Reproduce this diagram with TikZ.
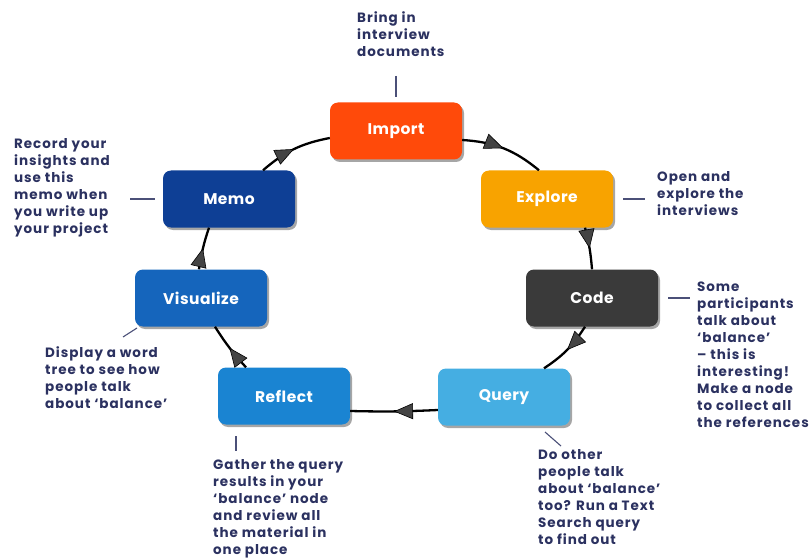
\documentclass[tikz,border=0pt]{standalone}
\usepackage{fontspec}
\setmainfont{Poppins}
\newfontfamily\notefont{Poppins}[LetterSpace=7]
\newfontfamily\boxfont{Poppins}[LetterSpace=3]
\usetikzlibrary{arrows.meta,decorations.markings,shadows}
\definecolor{cimp}{HTML}{FF4A0A}
\definecolor{cexp}{HTML}{F8A300}
\definecolor{ccode}{HTML}{3A3A3A}
\definecolor{cquery}{HTML}{45AEE2}
\definecolor{crefl}{HTML}{1A84D2}
\definecolor{cvis}{HTML}{1565BC}
\definecolor{cmemo}{HTML}{0E3F95}
\definecolor{notec}{HTML}{2B3160}
\definecolor{arrowc}{HTML}{444444}
\begin{document}
\begin{tikzpicture}[x=1pt,y=-1pt,
 box/.style={rounded corners=8pt, minimum width=132pt, minimum height=57pt, text=white,
   font=\boxfont\bfseries\fontsize{15.5}{17}\selectfont,
   drop shadow={shadow xshift=2pt, shadow yshift=-2.5pt, opacity=0.35, fill=black}},
 note/.style={text=notec, align=left, font=\notefont\bfseries\fontsize{13.5}{17}\selectfont, anchor=north west, inner sep=0pt},
 flow/.style={line width=2.3pt, draw=black, postaction={decorate},
   decoration={markings, mark=at position 0.5 with {\arrow{Triangle[length=19pt,width=16pt,fill=arrowc,line width=0.6pt]}}}},
 lead/.style={draw=notec!85, line width=1.1pt}]
\useasboundingbox (0,0) rectangle (809,559);

\node[box, fill=cimp]   (imp)  at (396,131) {Import};
\node[box, fill=cexp]   (exp)  at (547,199) {Explore};
\node[box, fill=ccode]  (code) at (592,298) {Code};
\node[box, fill=cquery] (qry)  at (504,397) {Query};
\node[box, fill=crefl]  (refl) at (284,396) {Reflect};
\node[box, fill=cvis]   (vis)  at (201,298) {Visualize};
\node[box, fill=cmemo]  (memo) at (229,199) {Memo};

\draw[flow] ([yshift=-9pt]imp.east) to[bend left=18] ([xshift=-8pt]exp.north);
\draw[flow] ([xshift=38pt]exp.south) to[bend left=5] ([xshift=0pt]code.north);
\draw[flow] ([xshift=-7pt]code.south) to[bend left=12] ([xshift=40pt]qry.north);
\draw[flow] ([yshift=-13pt]qry.west) to[bend left=2] ([yshift=-15pt]refl.east);
\draw[flow] ([xshift=-38pt]refl.north) to[bend left=5] ([xshift=14pt]vis.south);
\draw[flow] ([xshift=-2pt]vis.north) to[bend left=5] ([xshift=-20pt]memo.south);
\draw[flow] ([xshift=34pt]memo.north) to[bend left=15] ([yshift=-7pt]imp.west);

\node[note] (n1) at (357,11) {Bring in\\interview\\documents};
\node[note] (n2) at (14,138) {Record your\\insights and\\use this\\memo when\\you write up\\your project};
\node[note] (n3) at (657,171) {Open and\\explore the\\interviews};
\node[note] (n4) at (697,282) {Some\\participants\\talk about\\‘balance’\\– this is\\interesting!\\Make a node\\to collect all\\the references};
\node[note] (n5) at (45,346) {Display a word\\tree to see how\\people talk\\about ‘balance’};
\node[note] (n6) at (213,459) {Gather the query\\results in your\\‘balance’ node\\and review all\\the material in\\one place};
\node[note] (n7) at (538,449) {Do other\\people talk\\about ‘balance’\\too? Run a Text\\Search query\\to find out};

\coordinate (l1) at (396,76);
\draw[lead] (l1) -- ([yshift=5pt]imp.north);
\coordinate (l2) at (130,199);
\draw[lead] (l2) -- ([xshift=-8pt]memo.west);
\coordinate (l3) at (645,199);
\draw[lead] ([xshift=10pt]exp.east) -- (l3);
\coordinate (l4) at (690,298);
\draw[lead] ([xshift=10pt]code.east) -- (l4);
\coordinate (l5) at (123,337);
\coordinate (l5b) at (137,328);
\draw[lead] (l5) -- (l5b);
\coordinate (l6) at (236,436);
\coordinate (l6b) at (236,451);
\draw[lead] (l6) -- (l6b);
\coordinate (l7) at (545,432);
\coordinate (l7b) at (561,446);
\draw[lead] (l7) -- (l7b);
\end{tikzpicture}
\end{document}
